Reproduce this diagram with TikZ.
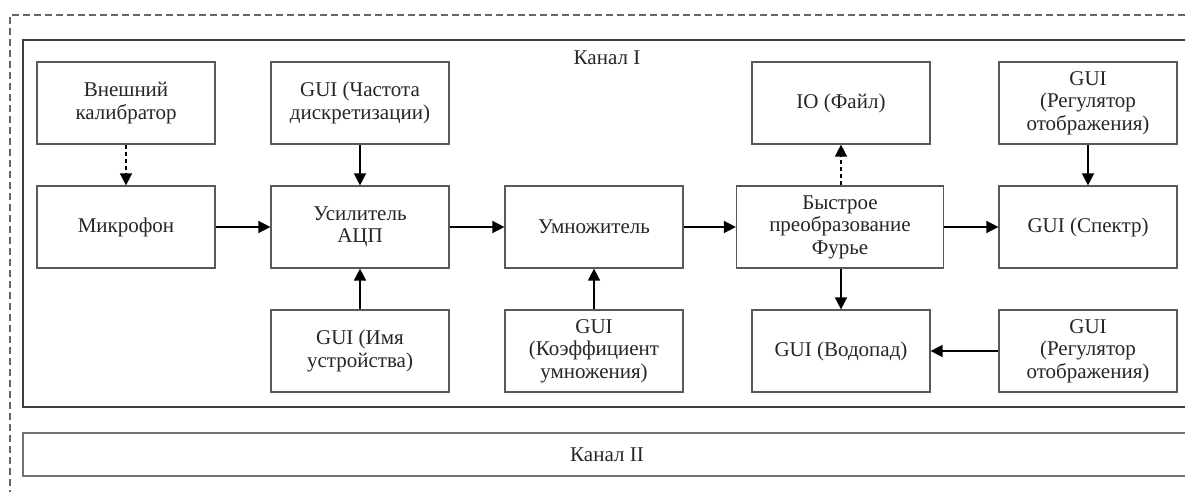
\documentclass[tikz,border=0pt]{standalone}
\usepackage{fontspec}
\setmainfont{Liberation Serif}
\usetikzlibrary{arrows.meta}

\begin{document}
\begin{tikzpicture}[x=0.5pt,y=0.5pt,
  block/.style={draw=black!65,line width=0.6pt,fill=white,align=center,
    minimum width=89pt,minimum height=41pt,inner sep=1pt,
    font=\fontsize{10.5}{11.3}\selectfont,text=black!85},
  wide/.style={block,minimum width=103.5pt},
  flow/.style={black,line width=0.75pt,-{Triangle[length=6pt,width=6pt]}},
  opt/.style={flow,dashed,dash pattern=on 2pt off 1.5pt},
  chlabel/.style={inner sep=0pt,font=\fontsize{10.5}{11.3}\selectfont,text=black!85}]
\useasboundingbox (0,0) rectangle (1185,-492);
\draw [black!60,line width=0.6pt,dash pattern=on 3.5pt off 2pt] (1185,-15) -- (10,-15) -- (10,-492);
\draw [black!75,line width=0.9pt] (1185,-40) -- (23,-40) -- (23,-407) -- (1185,-407);
\draw [black!55,line width=0.9pt] (1185,-433) -- (23,-433) -- (23,-476) -- (1185,-476);
\node [chlabel] (ch1) at (607,-58) {Канал I};
\node [chlabel] (ch2) at (607,-455) {Канал II};
\node [block] (kalib) at (126,-103) {Внешний\\калибратор};
\node [block] (mic) at (126,-227) {Микрофон};
\node [block] (freq) at (360,-103) {GUI (Частота\\дискретизации)};
\node [block] (amp) at (360,-227) {Усилитель\\АЦП};
\node [block] (devname) at (360,-351) {GUI (Имя\\устройства)};
\node [block] (mult) at (594,-227) {Умножитель};
\node [block] (coef) at (594,-351) {GUI\\(Коэффициент\\умножения)};
\node [wide] (fft) at (840,-227) {Быстрое\\преобразование\\Фурье};
\node [block] (file) at (841,-103) {IO (Файл)};
\node [block] (water) at (841,-351) {GUI (Водопад)};
\node [block] (reg1) at (1088,-103) {GUI\\(Регулятор\\отображения)};
\node [block] (spec) at (1088,-227) {GUI (Спектр)};
\node [block] (reg2) at (1088,-351) {GUI\\(Регулятор\\отображения)};
\draw [opt] (kalib) -- (mic);
\draw [flow] (mic) -- (amp);
\draw [flow] (freq) -- (amp);
\draw [flow] (devname) -- (amp);
\draw [flow] (amp) -- (mult);
\draw [flow] (coef) -- (mult);
\draw [flow] (mult) -- (fft);
\draw [opt] (fft.north -| file) -- (file);
\draw [flow] (fft) -- (spec);
\draw [flow] (reg1) -- (spec);
\draw [flow] (fft.south -| water) -- (water);
\draw [flow] (reg2) -- (water);
\end{tikzpicture}
\end{document}
